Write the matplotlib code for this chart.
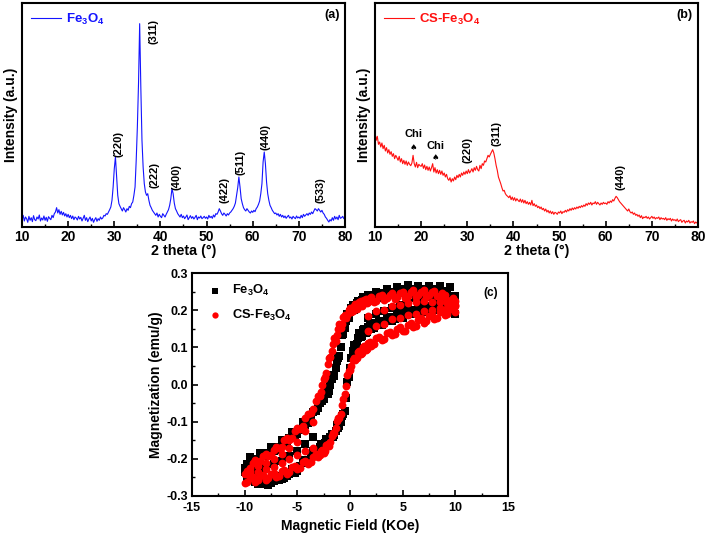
import matplotlib
matplotlib.use("Agg")
import matplotlib.pyplot as plt
import numpy as np

plt.rcParams["font.family"] = ["Liberation Sans", "DejaVu Sans"]
plt.rcParams["font.weight"] = "bold"
plt.rcParams["axes.unicode_minus"] = False
plt.rcParams["mathtext.fontset"] = "custom"
plt.rcParams["mathtext.rm"] = "Liberation Sans:bold"
plt.rcParams["mathtext.it"] = "Liberation Sans:bold"
plt.rcParams["mathtext.bf"] = "Liberation Sans:bold"

# XRD patterns, sampled every 0.25 deg from 10 to 80 (arbitrary intensity)
two_theta = np.arange(10, 80.001, 0.25)
xrd_fe3o4 = [
    22, 35, 18, 30, 25, 14, 32, 20, 28, 16, 34, 22, 19, 30, 24, 36, 18, 27, 21, 33,
    20, 29, 17, 31, 26, 22, 35, 28, 40, 45, 58, 42, 52, 38, 47, 36, 44, 33, 40, 30,
    38, 28, 35, 25, 33, 22, 30, 27, 21, 32, 24, 29, 18, 26, 35, 20, 28, 16, 24, 30,
    18, 26, 14, 22, 28, 17, 25, 20, 30, 24, 27, 35, 33, 40, 38, 45, 52, 60, 80, 120,
    175, 210, 150, 95, 70, 62, 55, 48, 58, 52, 45, 55, 50, 62, 58, 70, 75, 95, 120, 200,
    300, 430, 610, 420, 260, 180, 130, 105, 95, 100, 80, 65, 58, 50, 45, 40, 35, 42, 30, 38,
    32, 28, 40, 35, 30, 38, 45, 52, 65, 85, 115, 100, 72, 55, 48, 40, 35, 30, 38, 28,
    33, 25, 30, 36, 22, 28, 34, 26, 31, 24, 29, 35, 22, 30, 27, 33, 25, 28, 32, 26,
    30, 24, 35, 28, 32, 26, 36, 30, 40, 38, 45, 55, 48, 40, 35, 42, 38, 33, 40, 36,
    42, 45, 50, 55, 62, 72, 95, 118, 150, 120, 85, 70, 58, 52, 48, 55, 50, 45, 42, 48,
    44, 50, 46, 55, 60, 68, 78, 100, 130, 195, 225, 190, 135, 100, 80, 65, 58, 50, 45, 40,
    42, 36, 40, 32, 38, 30, 35, 28, 33, 26, 31, 35, 27, 30, 24, 32, 28, 25, 33, 27,
    30, 26, 35, 28, 38, 32, 36, 40, 35, 42, 38, 45, 40, 48, 55, 52, 48, 55, 50, 45,
    50, 42, 38, 30, 26, 20, 15, 22, 18, 28, 20, 32, 24, 30, 22, 35, 26, 28, 32, 25,
    30,
]
xrd_cs = [
    285, 260, 272, 248, 255, 240, 252, 235, 245, 228, 238, 222, 232, 218, 226, 212, 220, 205, 215, 208,
    200, 212, 195, 205, 190, 200, 188, 198, 185, 195, 188, 184, 192, 215, 190, 180, 194, 178, 188, 184,
    182, 190, 176, 186, 172, 182, 170, 180, 168, 178, 190, 165, 178, 162, 172, 160, 170, 158, 168, 155,
    162, 150, 158, 145, 140, 148, 135, 145, 138, 150, 142, 155, 148, 158, 150, 162, 155, 165, 158, 168,
    160, 172, 162, 168, 175, 165, 178, 170, 182, 172, 168, 185, 175, 190, 185, 198, 195, 205, 215, 210,
    218, 225, 232, 222, 205, 185, 170, 150, 140, 130, 118, 108, 110, 100, 95, 92, 88, 94, 82, 90,
    80, 88, 78, 85, 80, 76, 84, 74, 82, 72, 80, 70, 76, 68, 74, 66, 80, 64, 70, 62,
    66, 58, 62, 55, 60, 52, 56, 48, 54, 45, 50, 42, 48, 40, 46, 38, 44, 42, 38, 45,
    42, 48, 40, 46, 44, 50, 45, 52, 48, 55, 50, 57, 52, 58, 54, 60, 56, 62, 58, 64,
    60, 66, 62, 70, 65, 72, 68, 74, 66, 72, 70, 76, 68, 74, 70, 66, 72, 68, 74, 70,
    72, 68, 76, 72, 78, 74, 82, 78, 86, 92, 88, 82, 76, 72, 68, 64, 60, 56, 52, 48,
    54, 46, 42, 45, 38, 42, 35, 38, 32, 36, 28, 34, 25, 30, 28, 32, 26, 30, 24, 28,
    32, 26, 30, 24, 28, 26, 30, 22, 28, 24, 26, 22, 28, 20, 25, 22, 26, 18, 24, 20,
    22, 18, 24, 16, 20, 22, 14, 18, 20, 12, 18, 15, 20, 12, 16, 14, 18, 10, 15, 12,
    14,
]

# peak labels: (text, 2theta, intensity)
peaks_a = [("(220)", 30.9, 250), ("(311)", 38.5, 585), ("(222)", 38.8, 155),
           ("(400)", 43.5, 150), ("(422)", 53.8, 110), ("(511)", 57.4, 195),
           ("(440)", 62.8, 270), ("(533)", 74.7, 110)]
peaks_b = [("(220)", 30.0, 230), ("(311)", 36.4, 280), ("(440)", 63.3, 150)]
chi_b = [(18.3, 278, 240), (23.15, 242, 208)]

# VSM loops: field (KOe) and magnetization (emu/g), descending/ascending branches
field = [10, 9.5, 9, 8.5, 8, 7.5, 7, 6.5, 6, 5.5, 5, 4.5, 4, 3.5, 3, 2.5, 2,
         1.75, 1.5, 1.25, 1, 0.75, 0.5, 0.25, 0, -0.25, -0.5, -0.75, -1, -1.25,
         -1.5, -1.75, -2, -2.25, -2.5, -2.75, -3, -3.5, -4, -4.5, -5, -5.5, -6,
         -6.5, -7, -7.5, -8, -8.5, -9, -9.5, -10]
field_mid = [9.75, 9.25, 8.75, 8.25, 7.75, 7.25, 6.75, 6.25, 5.75, 5.25, 4.75,
             4.25, 3.75, 3.25, 2.75, 2.25, 1.875, 1.625, 1.375, 1.125, 0.875,
             0.625, 0.375, 0.125, -0.125, -0.375, -0.625, -0.875, -1.125, -1.375,
             -1.625, -1.875, -2.125, -2.375, -2.625, -2.875, -3.25, -3.75, -4.25,
             -4.75, -5.25, -5.75, -6.25, -6.75, -7.25, -7.75, -8.25, -8.75, -9.25,
             -9.75]
field_in = [10, 9.25, 8.5, 7.75, 7, 6.25, 5.5, 4.75, 4, 3.25, 2.5, 1.75,
            -3.5, -4.25, -5, -5.75, -6.5, -7.25, -8, -8.75, -9.5]

m_fe_desc = [0.238, 0.262, 0.244, 0.266, 0.25, 0.264, 0.248, 0.266, 0.25, 0.268,
             0.252, 0.262, 0.244, 0.258, 0.24, 0.25, 0.23, 0.242, 0.224, 0.236,
             0.216, 0.226, 0.208, 0.214, 0.196, 0.19, 0.152, 0.132, 0.078, 0.062,
             0.022, 0.016, -0.018, -0.012, -0.038, -0.034, -0.062, -0.074, -0.104,
             -0.102, -0.134, -0.128, -0.156, -0.15, -0.176, -0.168, -0.19, -0.184,
             -0.204, -0.196, -0.225]
m_fe_asc = [0.19, 0.208, 0.198, 0.214, 0.2, 0.212, 0.196, 0.206, 0.19, 0.2,
            0.18, 0.19, 0.17, 0.178, 0.16, 0.166, 0.148, 0.156, 0.138, 0.146,
            0.128, 0.126, 0.098, 0.09, 0.044, 0.008, -0.07, -0.084, -0.112, -0.11,
            -0.137, -0.132, -0.152, -0.146, -0.166, -0.16, -0.178, -0.18, -0.206,
            -0.204, -0.232, -0.228, -0.247, -0.254, -0.247, -0.265, -0.268, -0.254,
            -0.262, -0.244, -0.235]
m_fe_desc_mid = [0.232, 0.252, 0.24, 0.258, 0.242, 0.256, 0.24, 0.258, 0.244, 0.256,
                 0.246, 0.25, 0.24, 0.246, 0.234, 0.24, 0.226, 0.236, 0.218, 0.228,
                 0.21, 0.22, 0.2, 0.206, 0.178, 0.172, 0.135, 0.1, 0.07, 0.045,
                 0.025, -0.002, -0.025, -0.02, -0.045, -0.05, -0.07, -0.09, -0.11,
                 -0.122, -0.14, -0.145, -0.16, -0.167, -0.178, -0.185, -0.193, -0.2,
                 -0.208, -0.215]
m_fe_asc_mid = [0.205, 0.195, 0.215, 0.2, 0.21, 0.198, 0.208, 0.192, 0.2, 0.186,
                0.192, 0.175, 0.182, 0.165, 0.17, 0.152, 0.16, 0.14, 0.15, 0.13,
                0.138, 0.11, 0.105, 0.07, 0.02, -0.035, -0.08, -0.1, -0.118, -0.125,
                -0.142, -0.14, -0.155, -0.158, -0.17, -0.168, -0.185, -0.192, -0.212,
                -0.22, -0.238, -0.24, -0.252, -0.258, -0.26, -0.27, -0.262, -0.268,
                -0.256, -0.25]
m_fe_inner = [0.222, 0.232, 0.228, 0.236, 0.226, 0.232, 0.22, 0.214, 0.205, 0.198,
              0.19, 0.18, -0.14, -0.16, -0.178, -0.192, -0.205, -0.215, -0.225,
              -0.232, -0.222]
m_cs_desc = [0.226, 0.22, 0.242, 0.234, 0.252, 0.24, 0.254, 0.24, 0.253, 0.238,
             0.25, 0.236, 0.246, 0.232, 0.241, 0.226, 0.236, 0.221, 0.231, 0.216,
             0.226, 0.209, 0.216, 0.199, 0.205, 0.186, 0.188, 0.164, 0.163, 0.134,
             0.126, 0.09, 0.07, 0.03, 0.016, -0.02, -0.03, -0.066, -0.08, -0.111,
             -0.117, -0.143, -0.145, -0.168, -0.168, -0.189, -0.187, -0.206, -0.203,
             -0.224, -0.24]
m_cs_asc = [0.195, 0.203, 0.187, 0.194, 0.177, 0.184, 0.166, 0.173, 0.155, 0.161,
            0.144, 0.15, 0.132, 0.138, 0.119, 0.124, 0.104, 0.111, 0.094, 0.1,
            0.082, 0.087, 0.066, 0.066, 0.04, 0.026, -0.026, -0.054, -0.091, -0.099,
            -0.131, -0.139, -0.166, -0.164, -0.184, -0.179, -0.196, -0.194, -0.214,
            -0.209, -0.228, -0.222, -0.24, -0.232, -0.248, -0.24, -0.256, -0.246,
            -0.261, -0.251, -0.264]
m_cs_desc_mid = [0.232, 0.228, 0.245, 0.238, 0.25, 0.236, 0.25, 0.236, 0.248, 0.232,
                 0.246, 0.23, 0.242, 0.228, 0.238, 0.222, 0.232, 0.218, 0.228, 0.21,
                 0.222, 0.204, 0.212, 0.196, 0.2, 0.18, 0.182, 0.152, 0.15, 0.118,
                 0.11, 0.075, 0.055, 0.02, 0.0, -0.03, -0.045, -0.078, -0.09, -0.12,
                 -0.125, -0.148, -0.15, -0.172, -0.175, -0.193, -0.192, -0.21, -0.21,
                 -0.232]
m_cs_asc_mid = [0.205, 0.19, 0.198, 0.18, 0.188, 0.17, 0.178, 0.158, 0.166, 0.145,
                0.155, 0.135, 0.142, 0.122, 0.128, 0.108, 0.114, 0.095, 0.103, 0.085,
                0.09, 0.07, 0.072, 0.05, 0.035, -0.005, -0.04, -0.08, -0.09, -0.118,
                -0.13, -0.155, -0.16, -0.178, -0.176, -0.19, -0.188, -0.208, -0.205,
                -0.225, -0.218, -0.235, -0.23, -0.245, -0.238, -0.252, -0.244, -0.258,
                -0.25, -0.262]
m_cs_inner1 = [0.21, 0.207, 0.206, 0.2, 0.198, 0.19, 0.186, 0.178, 0.175, 0.163,
               0.158, 0.145, -0.172, -0.18, -0.19, -0.2, -0.212, -0.222, -0.228,
               -0.236, -0.24]
m_cs_inner2 = [0.215, 0.22, 0.222, 0.222, 0.226, 0.222, 0.218, 0.214, 0.21, 0.2,
               0.197, 0.185, -0.1, -0.125, -0.155, -0.17, -0.188, -0.2, -0.212,
               -0.22, -0.232]

BLUE = "#1414ff"
RED = "#ff1010"

fig = plt.figure(figsize=(7.08, 5.35), dpi=100)
W, H = 708, 535
ax_a = fig.add_axes([22 / W, 1 - 227 / H, 323 / W, 224 / H])
ax_b = fig.add_axes([375 / W, 1 - 227 / H, 323 / W, 224 / H])
ax_c = fig.add_axes([192 / W, 1 - 496 / H, 316 / W, 223 / H])


def style_xrd(ax):
    ax.set_xlim(10, 80)
    ax.set_ylim(0, 672)
    ax.set_xticks(range(10, 81, 10))
    ax.set_xticks(range(15, 80, 10), minor=True)
    ax.set_yticks([])
    ax.tick_params(axis="x", which="both", direction="in", labelsize=10, pad=2)
    ax.tick_params(axis="x", which="major", length=4, width=1.2)
    ax.tick_params(axis="x", which="minor", length=2.5, width=1.0)
    for sp in ax.spines.values():
        sp.set_linewidth(1.5)
    ax.set_xlabel("2 theta (°)", fontsize=10.3, fontweight="bold", labelpad=0)
    ax.set_ylabel("Intensity (a.u.)", fontsize=10, fontweight="bold", labelpad=3)


ax_a.plot(two_theta, xrd_fe3o4, color=BLUE, lw=0.8, label="Fe$_3$O$_4$")
style_xrd(ax_a)
for txt, x, y in peaks_a:
    ax_a.text(x, y, txt, rotation=90, ha="center", va="center", fontsize=8,
              fontweight="bold")
ax_a.legend(loc="upper left", frameon=False, handlelength=2.3, fontsize=9.5,
            labelcolor=BLUE, borderaxespad=0.25, handletextpad=0.4)
ax_a.text(0.959, 0.945, "(a)", transform=ax_a.transAxes, ha="center",
          va="center", fontsize=9, fontweight="bold")

ax_b.plot(two_theta, xrd_cs, color=RED, lw=0.8, label="CS-Fe$_3$O$_4$")
style_xrd(ax_b)
for txt, x, y in peaks_b:
    ax_b.text(x, y, txt, rotation=90, ha="center", va="center", fontsize=8,
              fontweight="bold")
for x, ytxt, ymark in chi_b:
    ax_b.text(x, ytxt, "Chi", ha="center", va="center", fontsize=8,
              fontweight="bold")
    ax_b.text(x, ymark, "\u2660", ha="center", va="center", fontsize=6,
              family="DejaVu Sans")
ax_b.legend(loc="upper left", frameon=False, handlelength=2.3, fontsize=9.5,
            labelcolor=RED, borderaxespad=0.25, handletextpad=0.4)
ax_b.text(0.959, 0.945, "(b)", transform=ax_b.transAxes, ha="center",
          va="center", fontsize=9, fontweight="bold")

ms_sq, ms_ci = 28, 32
fe_sets = [(field, m_fe_desc), (field, m_fe_asc), (field_mid, m_fe_desc_mid),
           (field_mid, m_fe_asc_mid), (field_in, m_fe_inner)]
cs_sets = [(field, m_cs_desc), (field, m_cs_asc), (field_mid, m_cs_desc_mid),
           (field_mid, m_cs_asc_mid), (field_in, m_cs_inner1), (field_in, m_cs_inner2)]
for i, (hx, my) in enumerate(fe_sets):
    ax_c.scatter(hx, my, s=ms_sq, marker="s", color="black", lw=0,
                 label="Fe$_3$O$_4$" if i == 0 else None)
for i, (hx, my) in enumerate(cs_sets):
    ax_c.scatter(hx, my, s=ms_ci, marker="o", color="#ff0000", lw=0,
                 label="CS-Fe$_3$O$_4$" if i == 0 else None)
ax_c.set_xlim(-15, 15)
ax_c.set_ylim(-0.3, 0.3)
ax_c.set_xticks(range(-15, 16, 5))
ax_c.set_xticks(np.arange(-12.5, 15, 5), minor=True)
ax_c.set_yticks(np.arange(-0.3, 0.31, 0.1))
ax_c.set_yticks(np.arange(-0.25, 0.3, 0.1), minor=True)
ax_c.yaxis.set_major_formatter(matplotlib.ticker.FormatStrFormatter("%.1f"))
ax_c.tick_params(which="both", direction="in", labelsize=9)
ax_c.tick_params(axis="x", pad=4)
ax_c.tick_params(axis="y", pad=3)
ax_c.tick_params(which="major", length=4, width=1.2)
ax_c.tick_params(which="minor", length=2.5, width=1.0)
for sp in ax_c.spines.values():
    sp.set_linewidth(1.5)
ax_c.set_xlabel("Magnetic Field (KOe)", fontsize=10, fontweight="bold", labelpad=4)
ax_c.set_ylabel("Magnetization (emu/g)", fontsize=10, fontweight="bold", labelpad=2)
ax_c.legend(loc="upper left", frameon=False, fontsize=9.3, handletextpad=0.3,
            borderaxespad=0.4, markerscale=0.8, labelspacing=0.7)
ax_c.text(13.4, 0.245, "(c)", ha="center", va="center", fontsize=8.5,
          fontweight="bold")

fig.savefig("out.png", dpi=100)
